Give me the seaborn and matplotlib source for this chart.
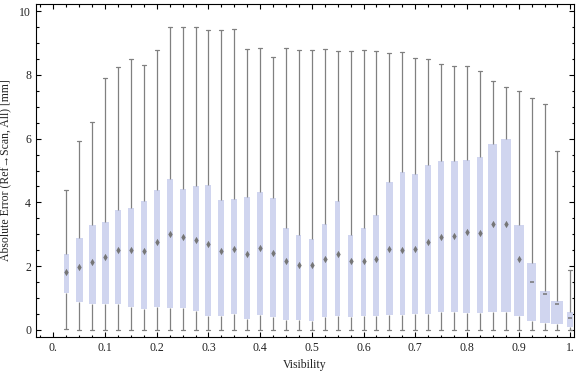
import matplotlib
matplotlib.use('Agg')
import matplotlib.pyplot as plt
import numpy as np
import pandas as pd
import seaborn as sns
from matplotlib.ticker import MultipleLocator

sns.set_theme(style='ticks')
plt.rcParams['font.family'] = ['Liberation Serif', 'DejaVu Serif']

VISIBILITY = [
    0.025, 0.05, 0.075, 0.1, 0.125, 0.15, 0.175, 0.2, 0.225, 0.25,
    0.275, 0.3, 0.325, 0.35, 0.375, 0.4, 0.425, 0.45, 0.475, 0.5,
    0.525, 0.55, 0.575, 0.6, 0.625, 0.65, 0.675, 0.7, 0.725, 0.75,
    0.775, 0.8, 0.825, 0.85, 0.875, 0.9, 0.925, 0.95, 0.975, 1.0,
]
WHISKER_LOW = [
    0.03, 0.0, 0.0, 0.0, 0.0, 0.0, 0.0, 0.0, 0.0, 0.0,
    0.0, 0.0, 0.0, 0.0, 0.0, 0.0, 0.0, 0.0, 0.0, 0.0,
    0.0, 0.0, 0.0, 0.0, 0.0, 0.0, 0.0, 0.0, 0.0, 0.0,
    0.0, 0.0, 0.0, 0.0, 0.0, 0.0, 0.0, 0.0, 0.0, 0.0,
]
Q1 = [
    1.15, 0.87, 0.80, 0.80, 0.82, 0.71, 0.65, 0.72, 0.68, 0.68,
    0.58, 0.43, 0.43, 0.49, 0.36, 0.46, 0.40, 0.30, 0.30, 0.27,
    0.40, 0.43, 0.40, 0.43, 0.43, 0.46, 0.46, 0.49, 0.49, 0.55,
    0.55, 0.52, 0.52, 0.55, 0.57, 0.43, 0.29, 0.21, 0.18, 0.08,
]
MEDIAN = [
    1.82, 1.96, 2.13, 2.30, 2.50, 2.51, 2.49, 2.77, 3.01, 2.92,
    2.81, 2.71, 2.49, 2.53, 2.37, 2.57, 2.40, 2.16, 2.05, 2.05,
    2.21, 2.37, 2.16, 2.16, 2.24, 2.54, 2.51, 2.55, 2.76, 2.90,
    2.96, 3.08, 3.04, 3.33, 3.33, 2.22, 1.50, 1.13, 0.81, 0.39,
]
Q3 = [
    2.39, 2.89, 3.30, 3.39, 3.77, 3.83, 4.05, 4.39, 4.74, 4.43,
    4.52, 4.55, 4.08, 4.11, 4.18, 4.33, 4.14, 3.20, 2.98, 2.86,
    3.33, 4.05, 2.98, 3.20, 3.61, 4.64, 4.96, 4.90, 5.18, 5.30,
    5.30, 5.33, 5.43, 5.83, 5.99, 3.30, 2.11, 1.23, 0.92, 0.57,
]
WHISKER_HIGH = [
    4.38, 5.92, 6.51, 7.89, 8.24, 8.49, 8.30, 8.77, 9.49, 9.49,
    9.49, 9.40, 9.40, 9.43, 8.80, 8.83, 8.55, 8.83, 8.77, 8.77,
    8.80, 8.74, 8.74, 8.77, 8.74, 8.68, 8.71, 8.52, 8.49, 8.33,
    8.27, 8.27, 8.11, 7.81, 7.61, 7.49, 7.27, 7.08, 5.62, 1.88,
]
X_TICKS = [0.0, 0.1, 0.2, 0.3, 0.4, 0.5, 0.6, 0.7, 0.8, 0.9, 1.0]
X_TICK_LABELS = ['0.', '0.1', '0.2', '0.3', '0.4', '0.5', '0.6', '0.7', '0.8', '0.9', '1.']
Y_TICKS = [0, 2, 4, 6, 8, 10]

# box widths in pixels, as drawn in the reference
BOX_WIDTHS_PX = [
    5, 7, 7, 7, 6, 6, 6, 6, 6, 6,
    6, 6, 6, 6, 6, 6, 6, 5.3, 5, 5,
    5, 5, 5, 5, 6, 6.3, 5.3, 6, 6, 6,
    7, 7, 6.7, 9, 9.7, 9.7, 9.7, 10, 12, 6,
]
PX_PER_UNIT = 517
BOX_COLOR = '#cbd1f4'
LINE_COLOR = '#808080'
MEDIAN_COLOR = '#767676'


def build_frame() -> pd.DataFrame:
    """Five points per box, so the quartiles come out exactly as read."""
    rows = []
    for i, vis in enumerate(VISIBILITY):
        for value in (WHISKER_LOW[i], Q1[i], MEDIAN[i], Q3[i], WHISKER_HIGH[i]):
            rows.append({'visibility': vis, 'error': value})
    return pd.DataFrame(rows)


def main() -> None:
    df = build_frame()
    fig = plt.figure(figsize=(5.76, 3.77), dpi=100)
    ax = fig.add_axes([36 / 576, 40 / 377, 538 / 576, 333 / 377])
    sns.boxplot(
        data=df,
        x='visibility',
        y='error',
        ax=ax,
        native_scale=True,
        whis=np.inf,
        showfliers=False,
        color=BOX_COLOR,
        linecolor=LINE_COLOR,
        widths=[w / PX_PER_UNIT for w in BOX_WIDTHS_PX],
        capwidths=4 / PX_PER_UNIT,
        boxprops={'linewidth': 0},
        whiskerprops={'linewidth': 0.9},
        capprops={'linewidth': 0.9},
        medianprops={'visible': False},
    )
    # diamond medians, the narrow boxes at the end show a flat dash
    n_diamond = 36
    sns.scatterplot(
        x=VISIBILITY[:n_diamond], y=MEDIAN[:n_diamond], ax=ax,
        marker='d', s=14, color=MEDIAN_COLOR, linewidth=0, zorder=4,
    )
    sns.scatterplot(
        x=VISIBILITY[n_diamond:], y=MEDIAN[n_diamond:], ax=ax,
        marker='_', s=12, color=MEDIAN_COLOR, linewidth=1.1, zorder=4,
    )

    ax.set_xlim(-0.0335, 1.007)
    ax.set_ylim(-0.22, 10.22)
    ax.set_xticks(X_TICKS, X_TICK_LABELS)
    ax.set_yticks(Y_TICKS, [str(t) for t in Y_TICKS])
    ax.xaxis.set_minor_locator(MultipleLocator(0.025))
    ax.yaxis.set_minor_locator(MultipleLocator(0.5))
    ax.tick_params(which='both', direction='in', top=True, right=True,
                   color='black', width=0.8, labelsize=8.5, labelcolor='#222222')
    ax.tick_params(which='major', length=3.6, pad=3.5)
    ax.tick_params(which='minor', length=1.8)
    for spine in ax.spines.values():
        spine.set_visible(True)
        spine.set_color('black')
        spine.set_linewidth(0.8)
    ax.set_xlabel('Visibility', fontsize=8.5, labelpad=4, color='#222222')
    ax.set_ylabel('Absolute Error (Ref\u2192Scan, All) [mm]', fontsize=8.5,
                  labelpad=6, color='#222222')
    ax.grid(False)
    fig.savefig('out.png', dpi=100)


if __name__ == '__main__':
    main()
